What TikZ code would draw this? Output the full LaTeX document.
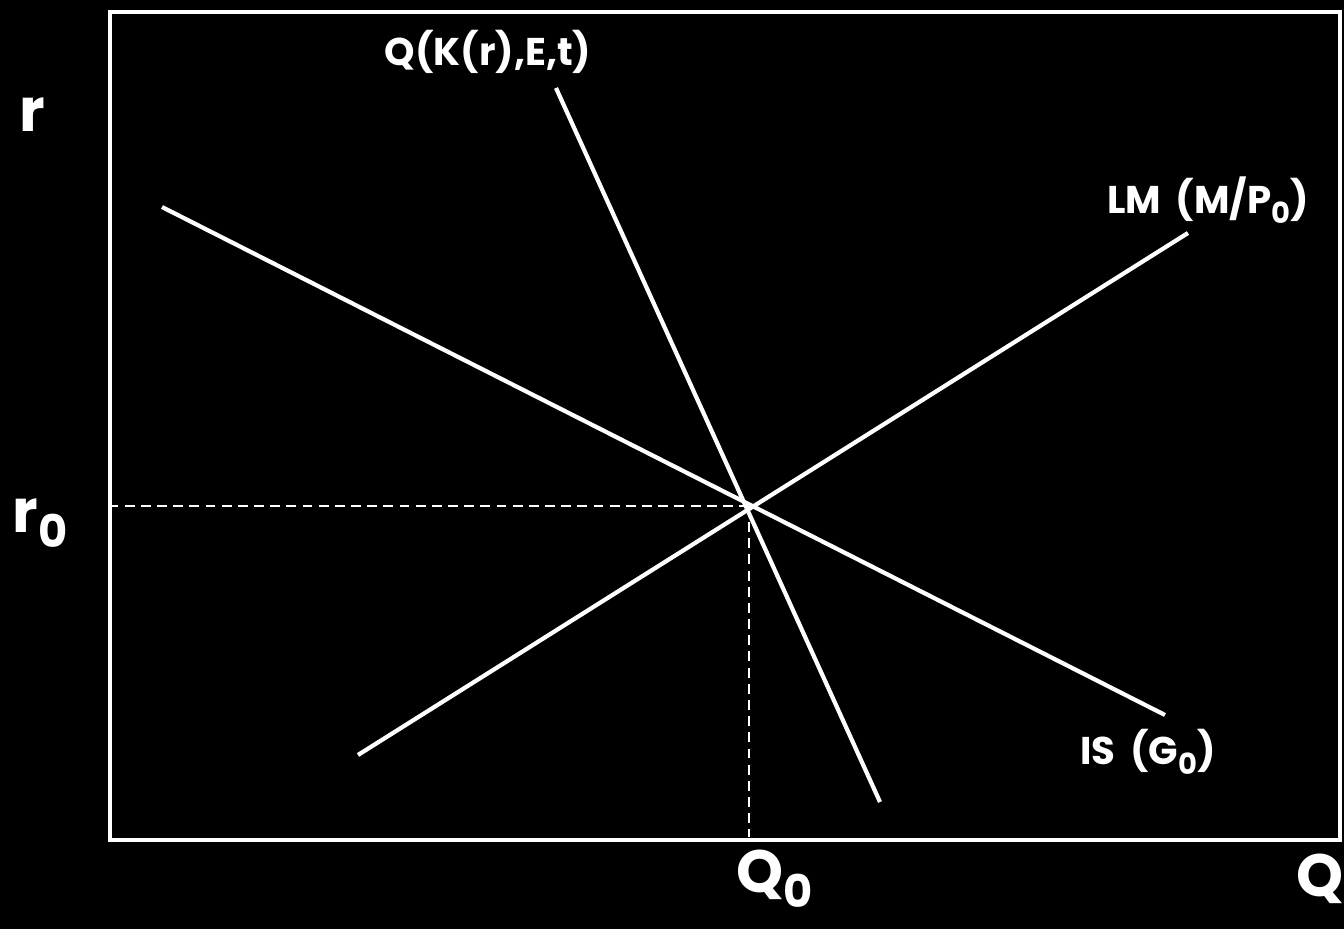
\documentclass[tikz,border=0pt]{standalone}
\usepackage{fontspec}
\setmainfont{Poppins}
\usepackage{tikz}
\usetikzlibrary{positioning,calc}
\newcommand{\vsub}[1]{\raisebox{-0.45ex}{\scalebox{0.75}{#1}}}
\tikzset{
  vcurve/.style={draw=white,line width=1.2pt},
  vframe/.style={draw=white,line width=1.1pt},
  vguide/.style={draw=white,line width=0.6pt,dash pattern=on 2.8pt off 1.8pt},
  vlabel/.style={text=white,font=\bfseries\fontsize{11}{13}\selectfont,inner sep=1pt},
  vaxis/.style={text=white,font=\bfseries\fontsize{17}{19}\selectfont,inner sep=1pt}
}
\begin{document}
\begin{tikzpicture}
  \useasboundingbox[fill=black] (0,0) rectangle (13.44,9.29);
  \draw[vframe] (1.10,0.89) rectangle (13.40,9.17);
  % curve ends
  \coordinate (is1) at (1.62,7.22);
  \coordinate (is2) at (11.65,2.14);
  \coordinate (lm1) at (3.58,1.74);
  \coordinate (lm2) at (11.88,6.96);
  \coordinate (qk1) at (5.56,8.41);
  \coordinate (qk2) at (8.80,1.27);
  \coordinate (eq) at (7.49,4.23);
  \draw[vcurve] (is1) -- (is2);
  \draw[vcurve] (lm1) -- (lm2);
  \draw[vcurve] (qk1) -- (qk2);
  % equilibrium guides
  \draw[vguide] (eq) -- (1.10,4.23);
  \draw[vguide] (eq) -- (7.49,0.92);
  % labels
  \node[vlabel] (qklab) at (4.88,8.77) {Q(K(r),E,t)};
  \node[vlabel] (lmlab) at (12.08,7.29) {LM\, (M/P\vsub{0})};
  \node[vlabel] (islab) at (11.48,1.77) {IS\, (G\vsub{0})};
  \node[vaxis] (rlab) at (0.32,8.14) {r};
  \node[vaxis] (r0lab) at (0.40,4.06) {r\vsub{0}};
  \node[vaxis] (q0lab) at (7.75,0.50) {Q\vsub{0}};
  \node[vaxis,anchor=west] (qlab) at (12.92,0.50) {Q};
\end{tikzpicture}
\end{document}
